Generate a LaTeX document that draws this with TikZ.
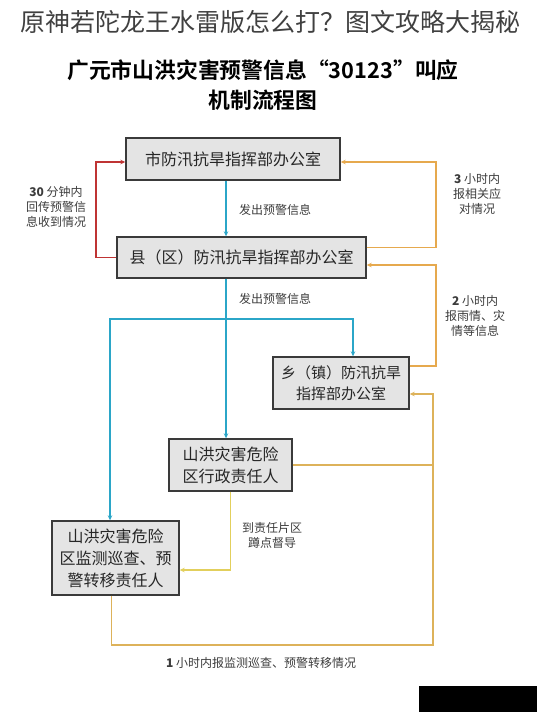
\documentclass[tikz,border=0pt]{standalone}
\usepackage{fontspec}
\usetikzlibrary{arrows.meta, positioning}
\newfontfamily\cjk{Noto Sans CJK SC}
\newfontfamily\cjkbold{Noto Sans CJK SC Bold}
\definecolor{boxgray}{HTML}{E4E4E4}
\definecolor{boxline}{HTML}{3A3A3A}
\definecolor{flowblue}{HTML}{2BA6C8}
\definecolor{flowred}{HTML}{BF3434}
\definecolor{floworange}{HTML}{E6A94E}
\definecolor{flowgold}{HTML}{DDB25A}
\definecolor{flowyellow}{HTML}{E2CF5C}
\definecolor{labelgray}{HTML}{3C3C3C}

\begin{document}
\begin{tikzpicture}[x=1pt, y=-1pt, >={Stealth[length=5pt,width=4.5pt]}, line width=1.8pt,
    flowbox/.style={draw=boxline, line width=1.4pt, fill=boxgray, align=center, inner sep=2pt,
        font=\cjk\fontsize{16}{22}\selectfont, text=black!85},
    note/.style={align=center, font=\cjk\fontsize{12}{15}\selectfont, text=labelgray}]
    \useasboundingbox (0,0) rectangle (537,712);

    % headings
    \node[font=\cjk\fontsize{25}{30}\selectfont, text=black!75] (head) at (270,22) {原神若陀龙王水雷版怎么打？图文攻略大揭秘};
    \node[font=\cjkbold\fontsize{21.8}{30}\selectfont, align=center] (title) at (263,85) {广元市山洪灾害预警信息“30123”叫应\\机制流程图};

    % boxes
    \node[flowbox, minimum width=214pt, minimum height=42pt] (city) at (233,159) {市防汛抗旱指挥部办公室};
    \node[flowbox, minimum width=249pt, minimum height=41pt] (county) at (241.5,257.5) {县（区）防汛抗旱指挥部办公室};
    \node[flowbox, minimum width=136pt, minimum height=52pt, font=\cjk\fontsize{15}{21}\selectfont] (town) at (341,383) {乡（镇）防汛抗旱\\指挥部办公室};
    \node[flowbox, minimum width=123pt, minimum height=52pt] (admin) at (230.5,465) {山洪灾害危险\\区行政责任人};
    \node[flowbox, minimum width=127pt, minimum height=74pt] (monitor) at (115.5,558) {山洪灾害危险\\区监测巡查、预\\警转移责任人};

    % blue: warning messages
    \coordinate (fork) at (226,319);
    \draw[flowblue, ->] ([xshift=-7pt]city.south) -- ([xshift=-15.5pt]county.north);
    \draw[flowblue, ->] ([xshift=-15.5pt]county.south) -- ([xshift=-4.5pt]admin.north);
    \draw[flowblue, ->] (fork) -| ([xshift=12pt]town.north);
    \draw[flowblue, ->] (fork) -| ([xshift=-5.5pt]monitor.north);
    \node[note] (msg1) at (275,210) {发出预警信息};
    \node[note] (msg2) at (275,299) {发出预警信息};

    % red: feedback within 30 min
    \draw[flowred, ->] (county.west) -- ++(-20,0) |- ([yshift=-3pt]city.west);
    \node[note] (fb30) at (56,207) {\textbf{30} 分钟内\\回传预警信\\息收到情况};

    % orange: reports
    \draw[floworange, ->] ([yshift=10pt]county.east) -- ++(69,0) |- ([yshift=-3pt]city.east);
    \node[note] (rep3) at (477,194) {\textbf{3} 小时内\\报相关应\\对情况};
    \draw[floworange, ->] ([yshift=17pt]town.east) -- ++(26,0) |- ([yshift=-7.5pt]county.east);
    \node[note] (rep2) at (475,316) {\textbf{2} 小时内\\报雨情、灾\\情等信息};

    % gold: patrol report loop
    \coordinate (rail) at (433,645);
    \draw[flowgold, ->] ([xshift=-4pt]monitor.south) |- (rail) |- ([yshift=-11pt]town.east);
    \draw[flowgold] (admin.east) -- (admin.east -| rail);
    \node[note] (rep1) at (261,663) {\textbf{1} 小时内报监测巡查、预警转移情况};

    % yellow: on-site supervision
    \draw[flowyellow, ->] (admin.south) |- ([yshift=-12pt]monitor.east);
    \node[note] (duty) at (272,535) {到责任片区\\蹲点督导};

    % corner patch
    \fill[black] (419,686) rectangle (537,712);
\end{tikzpicture}
\end{document}
